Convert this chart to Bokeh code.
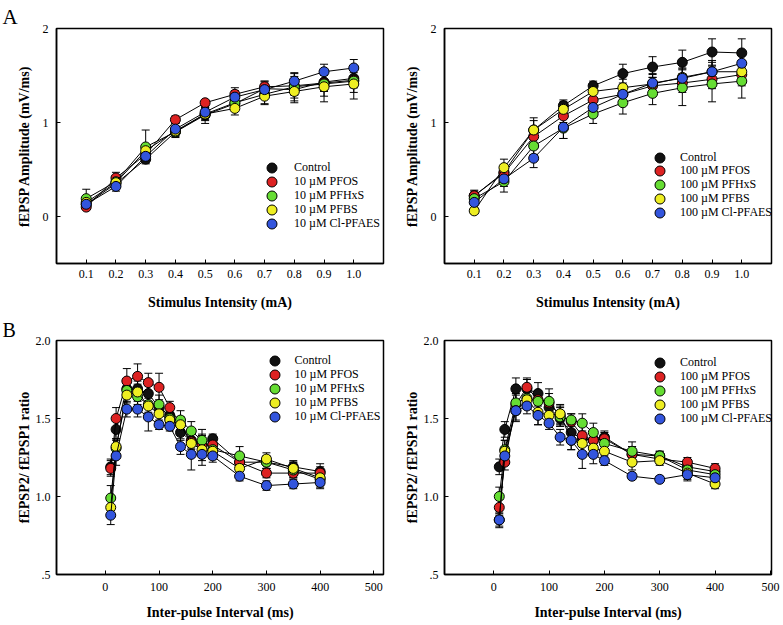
from bokeh.plotting import figure
from bokeh.models import (ColumnDataSource, Range1d, FixedTicker, Whisker, TeeHead,
                          Legend, LegendItem, PrintfTickFormatter)
from bokeh.layouts import gridplot
from bokeh.embed import file_html
from bokeh.resources import INLINE

FONT = "Liberation Serif"

series = ["Control", "PFOS", "PFHxS", "PFBS", "Cl-PFAES"]
colors = ["#111111", "#dd2222", "#66dd33", "#eeee22", "#3355dd"]
labels10 = ["Control", "10 \u00b5M PFOS", "10 \u00b5M PFHxS", "10 \u00b5M PFBS", "10 \u00b5M Cl-PFAES"]
labels100 = ["Control", "100 \u00b5M PFOS", "100 \u00b5M PFHxS", "100 \u00b5M PFBS", "100 \u00b5M Cl-PFAES"]

# ---- Panel A: input/output curves ----
stim = [0.1, 0.2, 0.3, 0.4, 0.5, 0.6, 0.7, 0.8, 0.9, 1.0]
stim_ticks = [0.1, 0.2, 0.3, 0.4, 0.5, 0.6, 0.7, 0.8, 0.9, 1.0]
io_yticks = [0, 1, 2]

io10_control = [0.13, 0.35, 0.61, 0.90, 1.08, 1.20, 1.36, 1.35, 1.43, 1.47]
io10_pfos    = [0.10, 0.41, 0.66, 1.03, 1.21, 1.30, 1.38, 1.39, 1.42, 1.45]
io10_pfhxs   = [0.19, 0.37, 0.74, 0.90, 1.09, 1.21, 1.30, 1.38, 1.41, 1.44]
io10_pfbs    = [0.15, 0.36, 0.70, 0.91, 1.09, 1.15, 1.28, 1.33, 1.38, 1.41]
io10_clpfaes = [0.13, 0.32, 0.64, 0.93, 1.11, 1.27, 1.35, 1.44, 1.54, 1.58]
io10_control_err = [0.04, 0.05, 0.04, 0.05, 0.09, 0.07, 0.08, 0.09, 0.10, 0.10]
io10_pfos_err    = [0.02, 0.06, 0.05, 0.04, 0.03, 0.07, 0.06, 0.10, 0.08, 0.08]
io10_pfhxs_err   = [0.10, 0.06, 0.18, 0.06, 0.07, 0.08, 0.10, 0.15, 0.13, 0.12]
io10_pfbs_err    = [0.03, 0.05, 0.05, 0.05, 0.06, 0.07, 0.09, 0.12, 0.16, 0.16]
io10_clpfaes_err = [0.04, 0.05, 0.05, 0.06, 0.05, 0.07, 0.07, 0.08, 0.08, 0.09]

io100_control = [0.22, 0.47, 0.92, 1.18, 1.39, 1.52, 1.59, 1.64, 1.75, 1.74]
io100_pfos    = [0.22, 0.46, 0.85, 1.07, 1.24, 1.30, 1.39, 1.42, 1.46, 1.51]
io100_pfhxs   = [0.19, 0.37, 0.75, 0.94, 1.09, 1.21, 1.31, 1.37, 1.41, 1.44]
io100_pfbs    = [0.06, 0.52, 0.92, 1.14, 1.33, 1.37, 1.41, 1.48, 1.54, 1.54]
io100_clpfaes = [0.15, 0.40, 0.62, 0.95, 1.16, 1.30, 1.42, 1.47, 1.54, 1.63]
io100_control_err = [0.06, 0.08, 0.10, 0.06, 0.05, 0.10, 0.11, 0.13, 0.14, 0.15]
io100_pfos_err    = [0.05, 0.07, 0.08, 0.07, 0.07, 0.08, 0.09, 0.10, 0.10, 0.12]
io100_pfhxs_err   = [0.05, 0.11, 0.09, 0.11, 0.10, 0.12, 0.12, 0.19, 0.19, 0.18]
io100_pfbs_err    = [0.03, 0.09, 0.13, 0.08, 0.08, 0.09, 0.10, 0.10, 0.12, 0.12]
io100_clpfaes_err = [0.06, 0.08, 0.10, 0.12, 0.10, 0.10, 0.10, 0.10, 0.10, 0.12]

# ---- Panel B: paired-pulse ratio ----
ipi = [10, 20, 40, 60, 80, 100, 120, 140, 160, 180, 200, 250, 300, 350, 400]
ipi_ticks = [0, 100, 200, 300, 400, 500]
ppr_yticks = [0.5, 1.0, 1.5, 2.0]

ppr10_control = [1.19, 1.43, 1.69, 1.69, 1.66, 1.57, 1.52, 1.41, 1.36, 1.34, 1.37, 1.22, 1.22, 1.19, 1.16]
ppr10_pfos    = [1.18, 1.50, 1.74, 1.77, 1.73, 1.70, 1.57, 1.46, 1.35, 1.33, 1.33, 1.22, 1.15, 1.15, 1.15]
ppr10_pfhxs   = [0.99, 1.31, 1.68, 1.64, 1.59, 1.59, 1.50, 1.49, 1.42, 1.36, 1.30, 1.26, 1.22, 1.17, 1.11]
ppr10_pfbs    = [0.93, 1.32, 1.65, 1.67, 1.58, 1.53, 1.49, 1.46, 1.34, 1.30, 1.29, 1.18, 1.24, 1.18, 1.12]
ppr10_clpfaes = [0.88, 1.26, 1.56, 1.56, 1.51, 1.46, 1.45, 1.32, 1.27, 1.27, 1.26, 1.13, 1.07, 1.08, 1.09]
ppr10_control_err = [0.05, 0.06, 0.05, 0.05, 0.05, 0.05, 0.04, 0.05, 0.05, 0.05, 0.03, 0.05, 0.04, 0.04, 0.05]
ppr10_pfos_err    = [0.05, 0.07, 0.08, 0.08, 0.06, 0.09, 0.04, 0.05, 0.05, 0.06, 0.05, 0.05, 0.03, 0.03, 0.04]
ppr10_pfhxs_err   = [0.08, 0.05, 0.05, 0.05, 0.05, 0.06, 0.04, 0.06, 0.06, 0.07, 0.05, 0.06, 0.04, 0.05, 0.05]
ppr10_pfbs_err    = [0.06, 0.05, 0.05, 0.05, 0.05, 0.05, 0.05, 0.05, 0.06, 0.10, 0.05, 0.05, 0.04, 0.04, 0.05]
ppr10_clpfaes_err = [0.06, 0.06, 0.05, 0.05, 0.09, 0.03, 0.03, 0.05, 0.10, 0.04, 0.04, 0.03, 0.03, 0.03, 0.04]

ppr100_control = [1.19, 1.43, 1.69, 1.69, 1.66, 1.57, 1.50, 1.41, 1.37, 1.36, 1.38, 1.27, 1.26, 1.19, 1.16]
ppr100_pfos    = [0.93, 1.22, 1.59, 1.70, 1.62, 1.60, 1.52, 1.48, 1.39, 1.36, 1.37, 1.27, 1.24, 1.22, 1.18]
ppr100_pfhxs   = [1.00, 1.30, 1.60, 1.63, 1.61, 1.61, 1.51, 1.49, 1.47, 1.41, 1.34, 1.29, 1.26, 1.17, 1.14]
ppr100_pfbs    = [0.85, 1.29, 1.55, 1.62, 1.54, 1.52, 1.53, 1.36, 1.34, 1.31, 1.29, 1.22, 1.23, 1.15, 1.08]
ppr100_clpfaes = [0.85, 1.26, 1.55, 1.58, 1.52, 1.47, 1.38, 1.36, 1.27, 1.27, 1.23, 1.13, 1.11, 1.14, 1.12]
ppr100_control_err = [0.05, 0.05, 0.07, 0.06, 0.07, 0.05, 0.05, 0.05, 0.05, 0.05, 0.04, 0.05, 0.03, 0.04, 0.04]
ppr100_pfos_err    = [0.05, 0.05, 0.06, 0.06, 0.06, 0.06, 0.06, 0.05, 0.06, 0.06, 0.04, 0.05, 0.03, 0.03, 0.03]
ppr100_pfhxs_err   = [0.06, 0.06, 0.06, 0.06, 0.06, 0.08, 0.06, 0.04, 0.06, 0.06, 0.04, 0.06, 0.03, 0.04, 0.04]
ppr100_pfbs_err    = [0.05, 0.07, 0.07, 0.06, 0.08, 0.06, 0.06, 0.06, 0.06, 0.05, 0.05, 0.05, 0.03, 0.04, 0.03]
ppr100_clpfaes_err = [0.04, 0.06, 0.06, 0.05, 0.06, 0.04, 0.05, 0.06, 0.09, 0.06, 0.03, 0.02, 0.02, 0.04, 0.03]


def make_panel(width, height, borders, xs, ys_list, errs_list, labels, xr, yr,
               xticks, xfmt, yticks, yfmt, yover, xlabel, ylabel,
               xstand, ystand, leg_x, leg_y0, leg_step, leg_standoff, panel_letter=None,
               letter_size="21px"):
    left, right, top, bottom = borders
    p = figure(width=width, height=height, x_range=Range1d(*xr), y_range=Range1d(*yr),
               output_backend="svg", toolbar_location=None, tools="",
               min_border_left=left, min_border_right=right,
               min_border_top=top, min_border_bottom=bottom)
    if panel_letter:
        p.title.text = panel_letter
        p.title.align = "left"
        p.title.offset = -left + 2
        p.title.standoff = 0
        p.title.text_font = FONT
        p.title.text_font_size = letter_size
        p.title.text_font_style = "normal"
        p.title.text_color = "black"
    else:
        p.title.text = ""
    p.background_fill_color = "white"
    p.border_fill_color = "white"
    p.outline_line_color = "black"
    p.outline_line_width = 1.5
    p.xgrid.visible = False
    p.ygrid.visible = False

    for ax in (p.xaxis[0], p.yaxis[0]):
        ax.axis_line_color = "black"
        ax.axis_line_width = 1.5
        ax.major_tick_in = 4
        ax.major_tick_out = 0
        ax.minor_tick_in = 0
        ax.minor_tick_out = 0
        ax.major_tick_line_color = "black"
        ax.major_label_text_font = FONT
        ax.major_label_text_font_size = "12px"
        ax.major_label_text_color = "black"
        ax.axis_label_text_font = FONT
        ax.axis_label_text_font_size = "14px"
        ax.axis_label_text_font_style = "bold"
        ax.axis_label_text_color = "black"

    p.xaxis.ticker = FixedTicker(ticks=xticks)
    p.xaxis.formatter = PrintfTickFormatter(format=xfmt)
    p.yaxis.ticker = FixedTicker(ticks=yticks)
    p.yaxis.formatter = PrintfTickFormatter(format=yfmt)
    if yover:
        p.yaxis.major_label_overrides = yover
    p.xaxis.axis_label = xlabel
    p.yaxis.axis_label = ylabel
    p.xaxis.major_label_standoff = xstand[0]
    p.xaxis.axis_label_standoff = xstand[1]
    p.yaxis.major_label_standoff = ystand[0]
    p.yaxis.axis_label_standoff = ystand[1]

    for k, (ys, es, col, lab) in enumerate(zip(ys_list, errs_list, colors, labels)):
        src = ColumnDataSource(dict(x=xs, y=ys,
                                    upper=[a + b for a, b in zip(ys, es)],
                                    lower=[a - b for a, b in zip(ys, es)]))
        w = Whisker(source=src, base="x", upper="upper", lower="lower",
                    line_color="black", line_width=1,
                    upper_head=TeeHead(size=8, line_color="black", line_width=1),
                    lower_head=TeeHead(size=8, line_color="black", line_width=1))
        p.add_layout(w)
        p.line("x", "y", source=src, line_color="black", line_width=1)
        r = p.scatter("x", "y", source=src, size=10, fill_color=col,
                      line_color="black", line_width=1)
        # one single-item legend per series, stacked ~14 px apart
        leg = Legend(items=[LegendItem(label=lab, renderers=[r])],
                     location=(leg_x, leg_y0 - k * leg_step),
                     glyph_width=25, glyph_height=25, spacing=0, padding=0, margin=0,
                     label_standoff=leg_standoff, border_line_color=None,
                     background_fill_alpha=0, label_text_font=FONT,
                     label_text_font_size="12px", label_text_color="black",
                     label_height=14)
        p.add_layout(leg)
    return p


p1 = make_panel(398, 316, (56, 15, 28, 53), stim,
                [io10_control, io10_pfos, io10_pfhxs, io10_pfbs, io10_clpfaes],
                [io10_control_err, io10_pfos_err, io10_pfhxs_err, io10_pfbs_err, io10_clpfaes_err],
                labels10, (0, 1.1), (-0.5, 2.0), stim_ticks, "%.1f", io_yticks, "%d", None,
                "Stimulus Intensity (mA)", "fEPSP Amplitude (mV/ms)",
                (6, 14), (8, 8), 203, 83.5, 14, 10, "A", "21px")
p2 = make_panel(385, 316, (45, 11, 28, 53), stim,
                [io100_control, io100_pfos, io100_pfhxs, io100_pfbs, io100_clpfaes],
                [io100_control_err, io100_pfos_err, io100_pfhxs_err, io100_pfbs_err, io100_clpfaes_err],
                labels100, (0, 1.1), (-0.5, 2.0), stim_ticks, "%.1f", io_yticks, "%d", None,
                "Stimulus Intensity (mA)", "fEPSP Amplitude (mV/ms)",
                (6, 14), (8, 8), 203, 93.5, 13.75, 8)
p3 = make_panel(398, 309, (56, 8, 23, 50), ipi,
                [ppr10_control, ppr10_pfos, ppr10_pfhxs, ppr10_pfbs, ppr10_clpfaes],
                [ppr10_control_err, ppr10_pfos_err, ppr10_pfhxs_err, ppr10_pfbs_err, ppr10_clpfaes_err],
                labels10, (-91, 518), (0.5, 2.0), ipi_ticks, "%d", ppr_yticks, "%.1f", {0.5: ".5"},
                "Inter-pulse Interval (ms)", "fEPSP2/ fEPSP1 ratio",
                (8, 11), (6, 1), 205.5, 201.5, 14, 8, "B", "20px")
p4 = make_panel(385, 309, (46, 12, 22, 51), ipi,
                [ppr100_control, ppr100_pfos, ppr100_pfhxs, ppr100_pfbs, ppr100_clpfaes],
                [ppr100_control_err, ppr100_pfos_err, ppr100_pfhxs_err, ppr100_pfbs_err, ppr100_clpfaes_err],
                labels100, (-89, 502), (0.5, 2.0), ipi_ticks, "%d", ppr_yticks, "%.1f", {0.5: ".5"},
                "Inter-pulse Interval (ms)", "fEPSP2/ fEPSP1 ratio",
                (8, 11), (6, 1), 203, 199, 14, 8)

grid = gridplot([[p1, p2], [p3, p4]], toolbar_location=None)

open("out.html", "w").write(file_html(grid, INLINE))
